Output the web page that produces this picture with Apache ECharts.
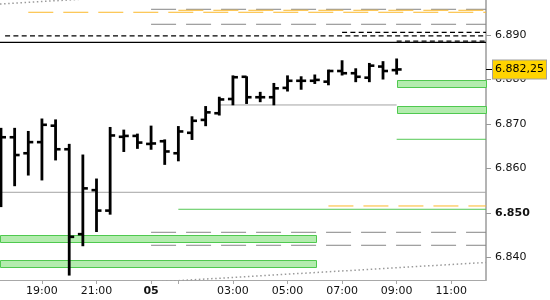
<!DOCTYPE html>
<html><head><meta charset="utf-8">
<script src="https://cdn.jsdelivr.net/npm/echarts@6/dist/echarts.min.js"></script>
<style>html,body{margin:0;padding:0;background:#fff}#c{width:550px;height:300px}</style>
</head><body><div id="c"></div>
<script>
// ---- data ----
// bar index, open, high, low, close (30-minute bars)
var barIdx = [0,1,2,3,4,5,6,7,8,9,10,11,12,13,14,15,16,17,18,19,20,21,22,23,24,25,26,27,28,29];
var opens  = [6.8650,6.8670,6.8634,6.8659,6.8696,6.8643,6.8452,6.8551,6.8505,6.8671,6.8673,6.8655,6.8661,6.8634,6.8680,6.8709,6.8724,6.8756,6.8806,6.8760,6.8760,6.8781,6.8797,6.8797,6.8795,6.8819,6.8814,6.8804,6.8829,6.8821];
var highs  = [6.8690,6.8690,6.8683,6.8711,6.8709,6.8654,6.8630,6.8576,6.8692,6.8686,6.8677,6.8695,6.8664,6.8694,6.8716,6.8739,6.8760,6.8808,6.8806,6.8771,6.8791,6.8808,6.8806,6.8810,6.8821,6.8842,6.8824,6.8836,6.8840,6.8846];
var lows   = [6.8514,6.8561,6.8585,6.8574,6.8619,6.8360,6.8426,6.8458,6.8497,6.8638,6.8645,6.8643,6.8609,6.8617,6.8665,6.8696,6.8720,6.8743,6.8746,6.8750,6.8743,6.8774,6.8778,6.8791,6.8788,6.8810,6.8795,6.8795,6.8801,6.8812];
var closes = [6.8670,6.8630,6.8659,6.8698,6.8643,6.8446,6.8555,6.8505,6.8674,6.8673,6.8658,6.8656,6.8638,6.8683,6.8707,6.8726,6.8755,6.8805,6.8760,6.8760,6.8780,6.8797,6.8797,6.8799,6.8819,6.8814,6.8806,6.8831,6.8819,6.88225];
var lastPrice = 6.88225;

// x-axis (bar index) labels and ticks
var tickIdx    = [3,7,11,13,17,21,25,29,33];
var labelIdx   = [3,7,11,17,21,25,29,33];
var labelTexts = ['19:00','21:00','05','03:00','05:00','07:00','09:00','11:00'];
// price axis labels
var priceTicks = [6.840,6.850,6.860,6.870,6.880,6.890];

// visible range
var xMin = -0.073, xMax = 35.55;
var yMin = 6.83489, yMax = 6.89787;

// levels: [startIndex, endIndex, price]  (null end = right edge, null start = left edge)
var graySolid   = [[16,29,6.87426],[null,null,6.85462]];
var grayDashed  = [[11,null,6.89578],[11,null,6.89241],[11,null,6.84562],[11,null,6.84270]];
var orangeDash  = [[2,null,6.89511],[13,null,6.89556],[24,null,6.85154]];
var blackDotted = [[0.3,null,6.88978],[25,null,6.89061],[29,null,6.88860]];
var blackSolid  = [[null,null,6.88836]];
var greenLines  = [[29,null,6.86654],[13,null,6.85080]];
// zones: [startIndex, endIndex, low, high]
var greenZones  = [[29,null,6.87824,6.87988],[29,null,6.87252,6.87403],[null,23.1,6.84351,6.84502],[null,23.1,6.83789,6.83939]];
// trend channel (dotted): two endpoints each [index, price]
var trendUpper = [[-0.073,6.89697],[10,6.89879]];
var trendLower = [[10,6.83420],[35.55,6.83884]];

// ---- chart ----
var FONT = 'DejaVu Sans';
var chart = echarts.init(document.getElementById('c'), null, {renderer:'canvas'});
function s(v,d){return v==null?d:v;}
var series = [];
function addLevels(arr, style, z){
  arr.forEach(function(l){
    series.push({type:'line', xAxisIndex:0, yAxisIndex:0, silent:true, z:z,
      data:[[s(l[0],xMin),l[2]],[s(l[1],xMax),l[2]]],
      showSymbol:false, symbol:'none', clip:true, animation:false,
      lineStyle:style});
  });
}
// zones
series.push({type:'custom', z:1, clip:true, animation:false, silent:true,
  data: greenZones.map(function(z){return [s(z[0],xMin), s(z[1],xMax), z[2], z[3]];}),
  renderItem:function(params, api){
    var a = api.coord([api.value(0), api.value(3)]);
    var b = api.coord([api.value(1), api.value(2)]);
    return {type:'rect', shape:{x:Math.round(a[0])+0.5, y:Math.round(a[1])+0.5, width:Math.round(b[0]-a[0]), height:Math.round(b[1]-a[1])},
      style:{fill:'#b3ecae', stroke:'#4fc94f', lineWidth:1}};
  }});
addLevels(graySolid,  {color:'#a4a4a4', width:1, type:'solid'}, 2);
addLevels(grayDashed, {color:'#858585', width:1, type:[25,10]}, 2);
addLevels(orangeDash, {color:'#fbb829', width:1, type:[25,10]}, 2);
addLevels(blackDotted,{color:'#000', width:1.2, type:[5,3.3]}, 2);
addLevels(blackSolid, {color:'#000', width:1.2, type:'solid'}, 2);
addLevels(greenLines, {color:'#55c855', width:1, type:'solid'}, 2);
[trendUpper, trendLower].forEach(function(t){
  series.push({type:'line', z:2, silent:true, data:t, showSymbol:false, symbol:'none', clip:true, animation:false,
    lineStyle:{color:'#9a9a9a', width:1.5, type:[1.5,2.6]}});
});
// OHLC bars
series.push({type:'custom', z:5, clip:true, animation:false, silent:true,
  data: barIdx.map(function(i,k){return [i, opens[k], highs[k], lows[k], closes[k]];}),
  renderItem:function(params, api){
    var i = api.value(0);
    var pH = api.coord([i, api.value(2)]), pL = api.coord([i, api.value(3)]);
    var pO = api.coord([i, api.value(1)]), pC = api.coord([i, api.value(4)]);
    var x = pH[0], w = 2.8, t = 2.6, len = 5;
    var st = {fill:'#000'};
    return {type:'group', children:[
      {type:'rect', shape:{x:x-w/2, y:pH[1]-0.5, width:w, height:pL[1]-pH[1]+1}, style:st},
      {type:'rect', shape:{x:x-len, y:pO[1]-t/2, width:len, height:t}, style:st},
      {type:'rect', shape:{x:x, y:pC[1]-t/2, width:len, height:t}, style:st}
    ]};
  }});

var lblMap = {};
labelIdx.forEach(function(v,k){lblMap[v]=labelTexts[k];});

chart.setOption({
  animation:false,
  backgroundColor:'#fff',
  grid:{left:0, right:63, top:0, bottom:20, containLabel:false},
  xAxis:{type:'value', min:xMin, max:xMax, splitLine:{show:false},
    axisLine:{show:true, onZero:false, lineStyle:{color:'#a8a8a8', width:1}},
    axisTick:{show:true, customValues:tickIdx, length:4, lineStyle:{color:'#a8a8a8'}},
    axisLabel:{show:true, customValues:labelIdx, margin:6, fontFamily:FONT, fontSize:11, color:'#111',
      formatter:function(v){var t=lblMap[Math.round(v)]||''; return t==='05'?'{b|05}':t;},
      rich:{b:{fontFamily:FONT, fontSize:11, fontWeight:'bold', color:'#111'}}}
  },
  yAxis:[{type:'value', position:'right', min:yMin, max:yMax, scale:true, splitLine:{show:false},
    axisLine:{show:true, onZero:false, lineStyle:{color:'#b4b4b4', width:2}},
    axisTick:{show:true, customValues:priceTicks, length:5, lineStyle:{color:'#999'}},
    axisLabel:{show:true, customValues:priceTicks, margin:9, fontFamily:FONT, fontSize:11, color:'#111',
      formatter:function(v){var t=v.toFixed(3); return Math.abs(v-6.85)<1e-7?'{b|'+t+'}':t;},
      rich:{b:{fontFamily:FONT, fontSize:11, fontWeight:'bold', color:'#111'}}}
  },{type:'value', position:'right', min:yMin, max:yMax, z:10, splitLine:{show:false},
    axisLine:{show:true, onZero:false, lineStyle:{color:'rgba(0,0,0,0)', width:0}},
    axisTick:{show:true, inside:false, customValues:[lastPrice], length:7, lineStyle:{color:'#000', width:1}},
    axisLabel:{show:true, customValues:[lastPrice], margin:7, fontFamily:FONT, fontSize:11, color:'#000',
      backgroundColor:'#ffd400', borderColor:'#a0a0a0', borderWidth:1, padding:[4,2,3,2],
      formatter:function(v){var t=lastPrice.toFixed(5); return t.slice(0,5)+','+t.slice(5);}}
  }],
  series:series
});
</script></body></html>
